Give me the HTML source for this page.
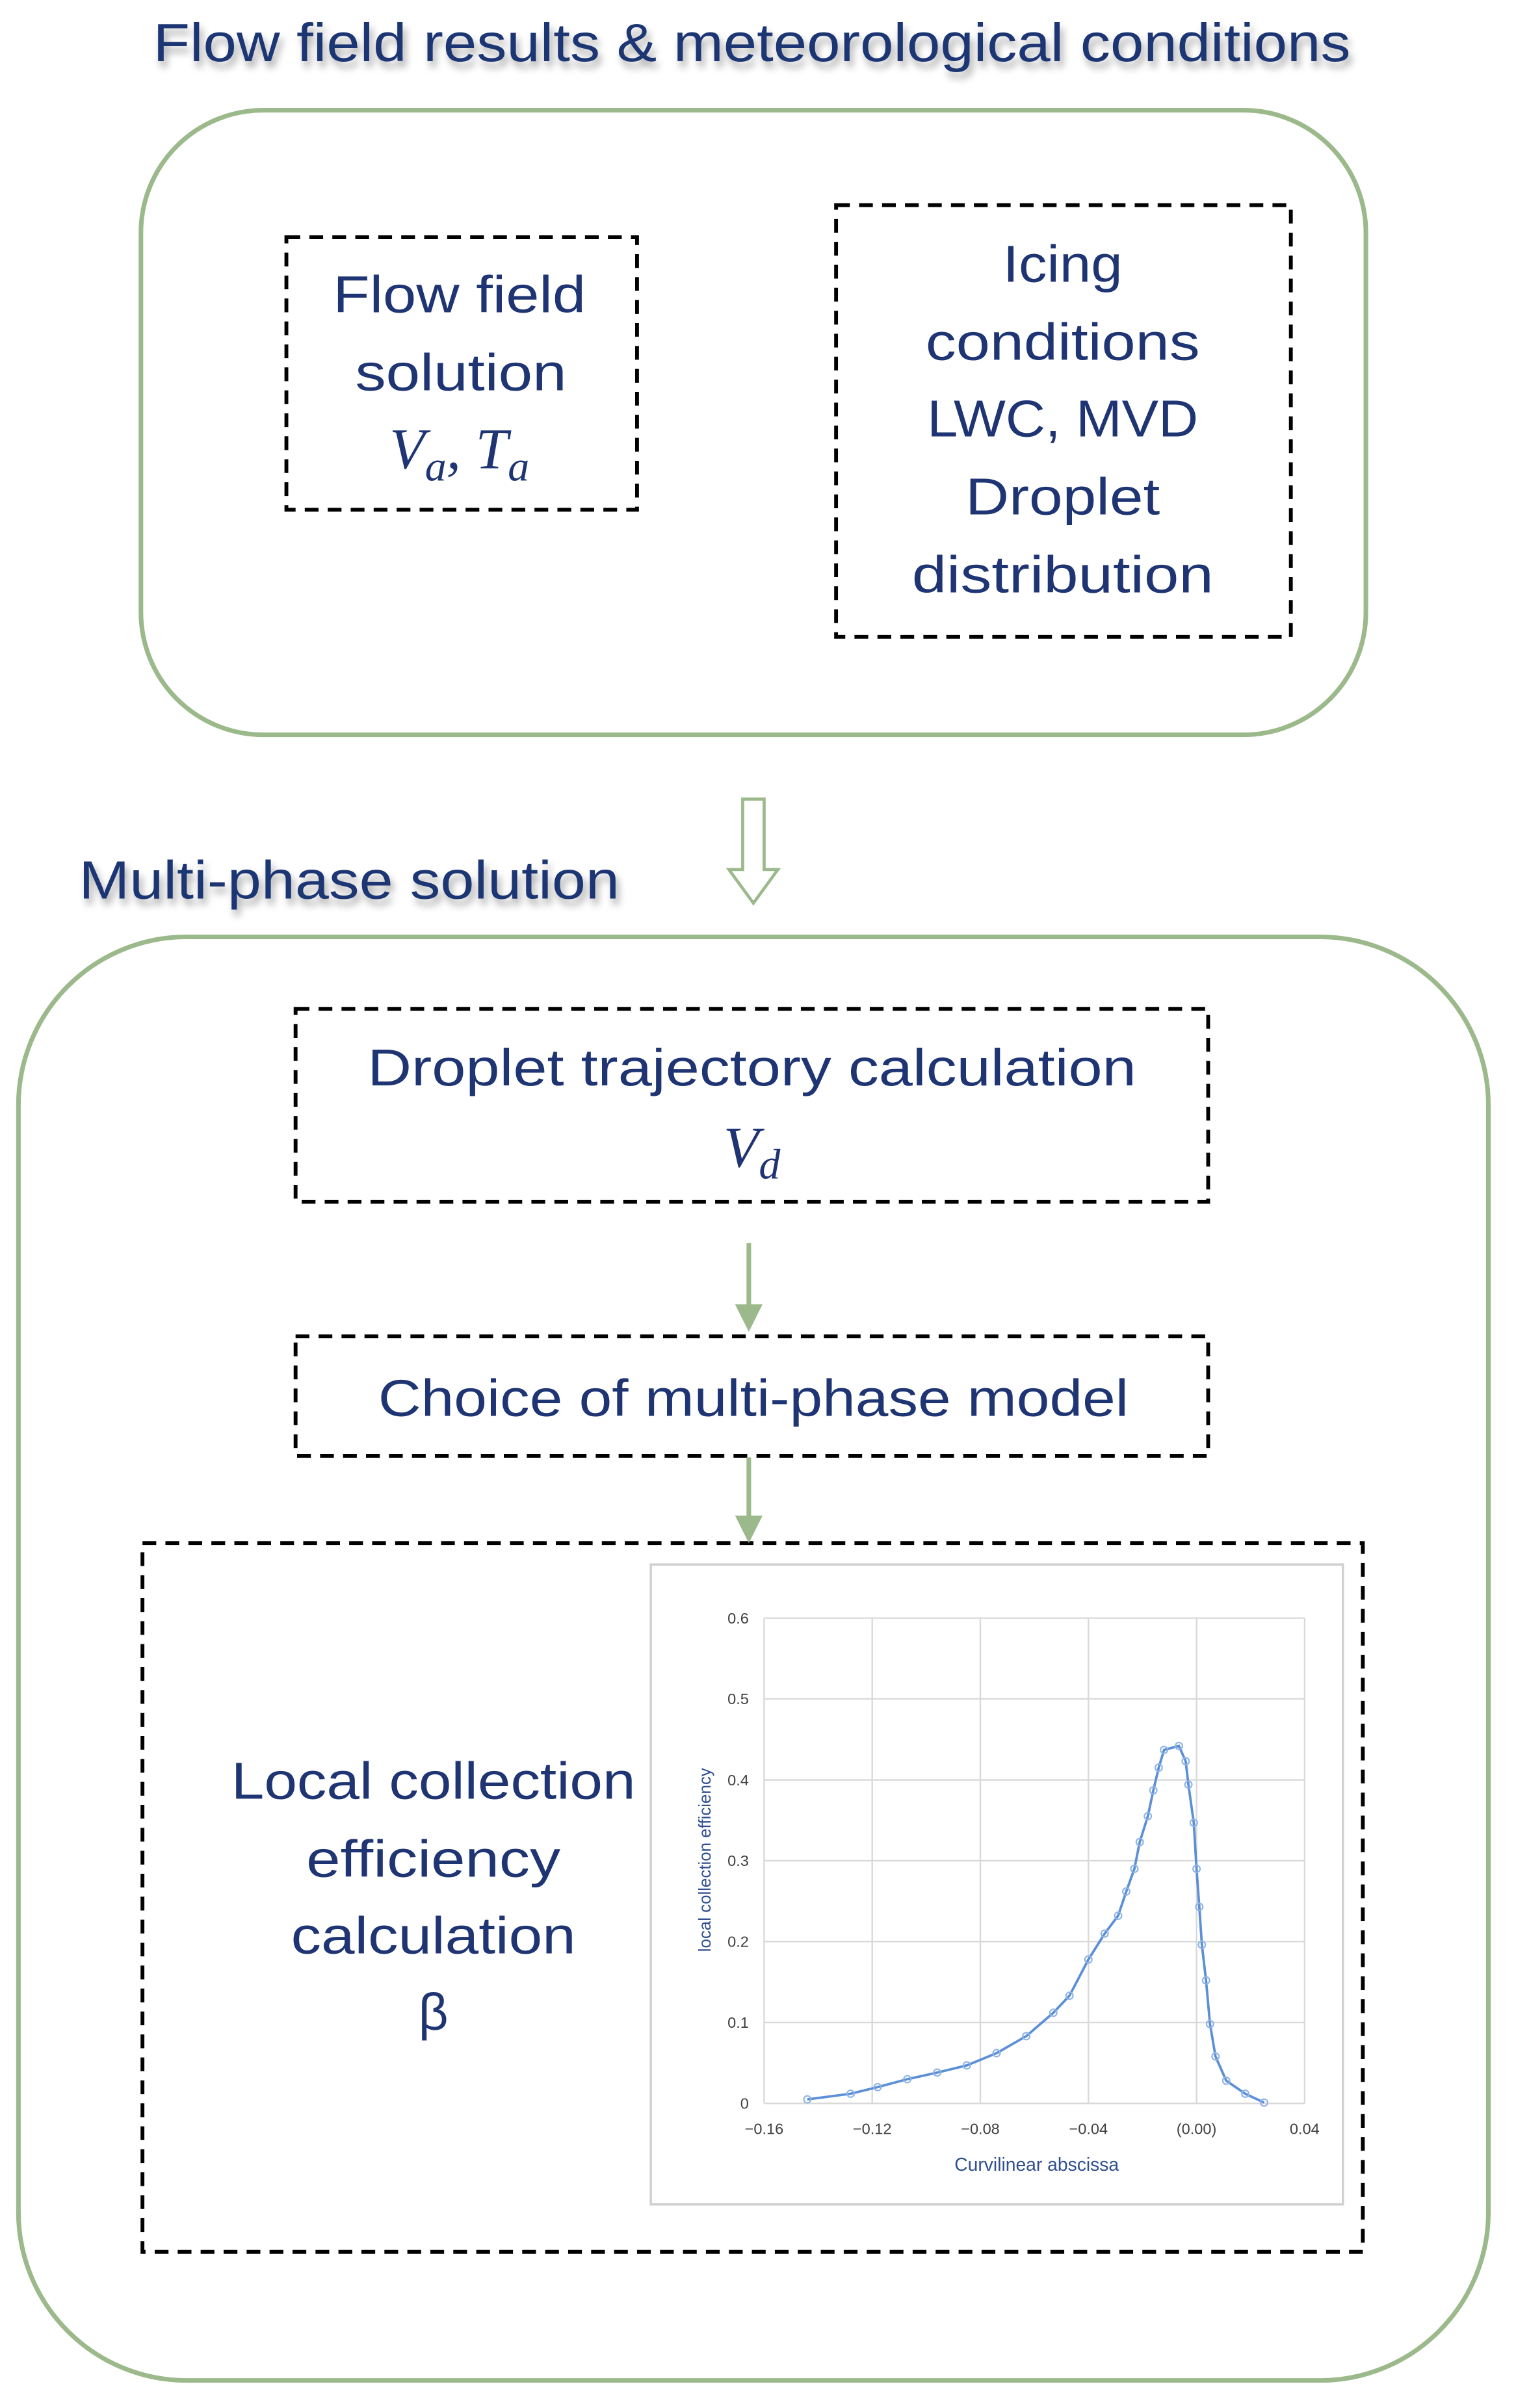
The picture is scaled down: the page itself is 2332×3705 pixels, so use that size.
<!DOCTYPE html>
<html><head><meta charset="utf-8">
<style>html,body{margin:0;padding:0;background:#fff}svg{display:block}</style>
</head><body>
<svg width="2332" height="3705" viewBox="0 0 990 1573" xmlns="http://www.w3.org/2000/svg" font-family="Liberation Sans, sans-serif">
<defs>
<filter id="sh" x="-5%" y="-30%" width="110%" height="180%"><feGaussianBlur in="SourceAlpha" stdDeviation="2.5"/><feOffset dx="2" dy="4"/><feComponentTransfer><feFuncA type="linear" slope="0.35"/></feComponentTransfer><feMerge><feMergeNode/><feMergeNode in="SourceGraphic"/></feMerge></filter>
</defs>
<g fill="#1f3573">
<text x="491" y="40" font-size="35" text-anchor="middle" textLength="782" lengthAdjust="spacingAndGlyphs" filter="url(#sh)">Flow field results &amp; meteorological conditions</text>
<text x="228" y="587" font-size="35" text-anchor="middle" textLength="353" lengthAdjust="spacingAndGlyphs" filter="url(#sh)">Multi-phase solution</text>
</g>
<rect x="92" y="72" width="800" height="408" rx="80" fill="none" stroke="#9cb98c" stroke-width="3"/>
<rect x="12" y="612" width="960" height="943" rx="110" fill="none" stroke="#9cb98c" stroke-width="3"/>
<g fill="none" stroke="#000" stroke-width="2.5" stroke-dasharray="9,6">
<rect x="187" y="155" width="229" height="178"/>
<rect x="546" y="134" width="297" height="282"/>
<rect x="193" y="659" width="596" height="126"/>
<rect x="193" y="873" width="596" height="78"/>
<rect x="93" y="1008" width="797" height="463"/>
</g>
<path d="M485 522 H499 V568 H508 L492 590 L476 568 H485 Z" fill="#fff" stroke="#9cb98c" stroke-width="2"/>
<g stroke="#9cb98c" stroke-width="3" fill="#9cb98c">
<line x1="489" y1="812" x2="489" y2="855"/><path d="M480 852 L498 852 L489 870 Z" stroke="none"/>
<line x1="489" y1="952" x2="489" y2="993"/><path d="M480 990 L498 990 L489 1008 Z" stroke="none"/>
</g>
<g fill="#1f3573" font-size="34" text-anchor="middle">
<text x="300" y="204" textLength="165" lengthAdjust="spacingAndGlyphs">Flow field</text>
<text x="301" y="255" textLength="138" lengthAdjust="spacingAndGlyphs">solution</text>
<text x="300" y="306" font-family="Liberation Serif, serif" font-style="italic" font-size="38">V<tspan font-size="28" dy="8">a</tspan><tspan dy="-8">, T</tspan><tspan font-size="28" dy="8">a</tspan></text>
<text x="694" y="184" textLength="78" lengthAdjust="spacingAndGlyphs">Icing</text>
<text x="694" y="235" textLength="179" lengthAdjust="spacingAndGlyphs">conditions</text>
<text x="694" y="285" textLength="177" lengthAdjust="spacingAndGlyphs">LWC, MVD</text>
<text x="694" y="336" textLength="127" lengthAdjust="spacingAndGlyphs">Droplet</text>
<text x="694" y="387" textLength="197" lengthAdjust="spacingAndGlyphs">distribution</text>
<text x="491" y="709" textLength="502" lengthAdjust="spacingAndGlyphs">Droplet trajectory calculation</text>
<text x="491" y="762" font-family="Liberation Serif, serif" font-style="italic" font-size="38">V<tspan font-size="28" dy="8">d</tspan></text>
<text x="492" y="925" textLength="490" lengthAdjust="spacingAndGlyphs">Choice of multi-phase model</text>
<text x="283" y="1175" textLength="264" lengthAdjust="spacingAndGlyphs">Local collection</text>
<text x="283" y="1226" textLength="166" lengthAdjust="spacingAndGlyphs">efficiency</text>
<text x="283" y="1276" textLength="186" lengthAdjust="spacingAndGlyphs">calculation</text>
<text x="283" y="1326">β</text>
</g>
<rect x="425" y="1022" width="452" height="418" fill="#fff" stroke="#d0d0d0" stroke-width="1.5"/>
<g stroke="#d9d9d9" stroke-width="1">
<line x1="499" x2="852" y1="1374" y2="1374"/>
<line x1="499" x2="852" y1="1321.2" y2="1321.2"/>
<line x1="499" x2="852" y1="1268.3" y2="1268.3"/>
<line x1="499" x2="852" y1="1215.5" y2="1215.5"/>
<line x1="499" x2="852" y1="1162.7" y2="1162.7"/>
<line x1="499" x2="852" y1="1109.8" y2="1109.8"/>
<line x1="499" x2="852" y1="1057" y2="1057"/>
<line y1="1057" y2="1374" x1="499" x2="499"/>
<line y1="1057" y2="1374" x1="569.6" x2="569.6"/>
<line y1="1057" y2="1374" x1="640.2" x2="640.2"/>
<line y1="1057" y2="1374" x1="710.8" x2="710.8"/>
<line y1="1057" y2="1374" x1="781.4" x2="781.4"/>
<line y1="1057" y2="1374" x1="852" x2="852"/>
</g>
<g font-size="10" fill="#404040" text-anchor="end">
<text x="489" y="1377.5">0</text>
<text x="489" y="1324.7">0.1</text>
<text x="489" y="1271.8">0.2</text>
<text x="489" y="1219">0.3</text>
<text x="489" y="1166.2">0.4</text>
<text x="489" y="1113.3">0.5</text>
<text x="489" y="1060.5">0.6</text>
</g>
<g font-size="10" fill="#404040" text-anchor="middle">
<text x="499" y="1394">−0.16</text>
<text x="569.6" y="1394">−0.12</text>
<text x="640.2" y="1394">−0.08</text>
<text x="710.8" y="1394">−0.04</text>
<text x="781.4" y="1394">(0.00)</text>
<text x="852" y="1394">0.04</text>
</g>
<polyline fill="none" stroke="#5b8fd6" stroke-width="1.6" points="527.2,1371.4 555.5,1367.7 573.1,1363.4 592.5,1358.2 612,1353.9 631.4,1349.2 650.8,1341.2 670.2,1330.1 687.9,1314.8 698.4,1303.7 710.8,1280 721.4,1263.1 730.2,1251.4 735.5,1235.6 740.8,1220.8 744.3,1203.3 749.6,1186.4 753.2,1169.5 756.7,1154.7 760.2,1143.1 769.9,1140.5 774.3,1150.5 776.1,1165.8 779.6,1190.7 781.4,1220.8 783.2,1245.6 784.9,1270.4 787.6,1293.7 790.2,1322.2 793.8,1343.4 800.8,1359.2 813.2,1367.7 825.5,1373.5"/>
<g fill="none" stroke="#8fb3e6" stroke-width="0.9">
<circle cx="527.2" cy="1371.4" r="2.3"/><circle cx="555.5" cy="1367.7" r="2.3"/><circle cx="573.1" cy="1363.4" r="2.3"/><circle cx="592.5" cy="1358.2" r="2.3"/><circle cx="612" cy="1353.9" r="2.3"/><circle cx="631.4" cy="1349.2" r="2.3"/><circle cx="650.8" cy="1341.2" r="2.3"/><circle cx="670.2" cy="1330.1" r="2.3"/><circle cx="687.9" cy="1314.8" r="2.3"/><circle cx="698.4" cy="1303.7" r="2.3"/><circle cx="710.8" cy="1280" r="2.3"/><circle cx="721.4" cy="1263.1" r="2.3"/><circle cx="730.2" cy="1251.4" r="2.3"/><circle cx="735.5" cy="1235.6" r="2.3"/><circle cx="740.8" cy="1220.8" r="2.3"/><circle cx="744.3" cy="1203.3" r="2.3"/><circle cx="749.6" cy="1186.4" r="2.3"/><circle cx="753.2" cy="1169.5" r="2.3"/><circle cx="756.7" cy="1154.7" r="2.3"/><circle cx="760.2" cy="1143.1" r="2.3"/><circle cx="769.9" cy="1140.5" r="2.3"/><circle cx="774.3" cy="1150.5" r="2.3"/><circle cx="776.1" cy="1165.8" r="2.3"/><circle cx="779.6" cy="1190.7" r="2.3"/><circle cx="781.4" cy="1220.8" r="2.3"/><circle cx="783.2" cy="1245.6" r="2.3"/><circle cx="784.9" cy="1270.4" r="2.3"/><circle cx="787.6" cy="1293.7" r="2.3"/><circle cx="790.2" cy="1322.2" r="2.3"/><circle cx="793.8" cy="1343.4" r="2.3"/><circle cx="800.8" cy="1359.2" r="2.3"/><circle cx="813.2" cy="1367.7" r="2.3"/><circle cx="825.5" cy="1373.5" r="2.3"/>
</g>
<text x="677" y="1418" font-size="12" fill="#2f4f8f" text-anchor="middle">Curvilinear abscissa</text>
<text transform="translate(464,1215) rotate(-90)" font-size="11" fill="#2f4f8f" text-anchor="middle">local collection efficiency</text>
</svg>
</body></html>
